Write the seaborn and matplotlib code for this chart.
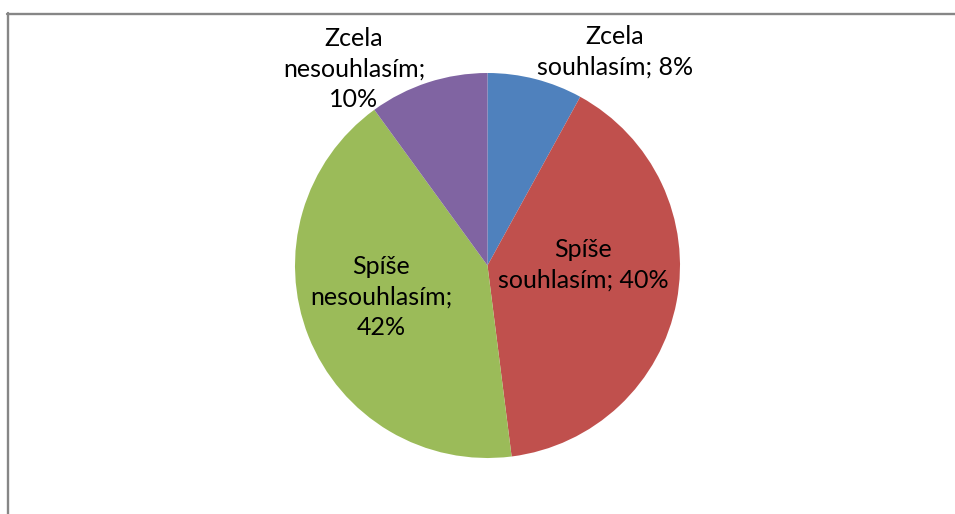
import matplotlib
matplotlib.use("Agg")
import matplotlib.pyplot as plt
from matplotlib.lines import Line2D
import seaborn as sns

# Survey answers and their shares (%)
categories = ["Zcela souhlasím", "Spíše souhlasím", "Spíše nesouhlasím", "Zcela nesouhlasím"]
shares = [8, 40, 42, 10]
label_texts = ["Zcela\nsouhlasím; 8%", "Spíše\nsouhlasím; 40%", "Spíše\nnesouhlasím;\n42%", "Zcela\nnesouhlasím;\n10%"]
colors = ["#4F81BD", "#C0504D", "#9BBB59", "#8064A2"]

sns.set_theme(style="white")
plt.rcParams["font.family"] = ["Lato", "DejaVu Sans"]

W, H = 955, 514
fig = plt.figure(figsize=(W / 100, H / 100), dpi=100)
ax = fig.add_axes([0, 0, 1, 1])

cx, cy, r = 487.5, H - 265.5, 192.5
ax.pie(shares, colors=colors, startangle=90, counterclock=False,
       center=(cx, cy), radius=r, frame=True,
       wedgeprops=dict(linewidth=0))
ax.set_xlim(0, W)
ax.set_ylim(0, H)
ax.set_aspect("equal")
ax.axis("off")

# label anchor points (pixel coords, measured from top)
label_pos = [(615, 52), (583, 265), (381, 297), (354, 69)]
for txt, (lx, ly) in zip(label_texts, label_pos):
    ax.text(lx, H - ly, txt, ha="center", va="center", multialignment="center",
            fontsize=18, color="black", linespacing=1.38)

# chart area frame
frame_color = "#868686"
fig.add_artist(Line2D([7.5 / W, 7.5 / W], [0, 1 - 13 / H], transform=fig.transFigure,
                      color=frame_color, lw=1.7))
fig.add_artist(Line2D([7 / W, 1], [1 - 13.5 / H, 1 - 13.5 / H], transform=fig.transFigure,
                      color=frame_color, lw=1.7))

fig.savefig("out.png", dpi=100, facecolor="white")
